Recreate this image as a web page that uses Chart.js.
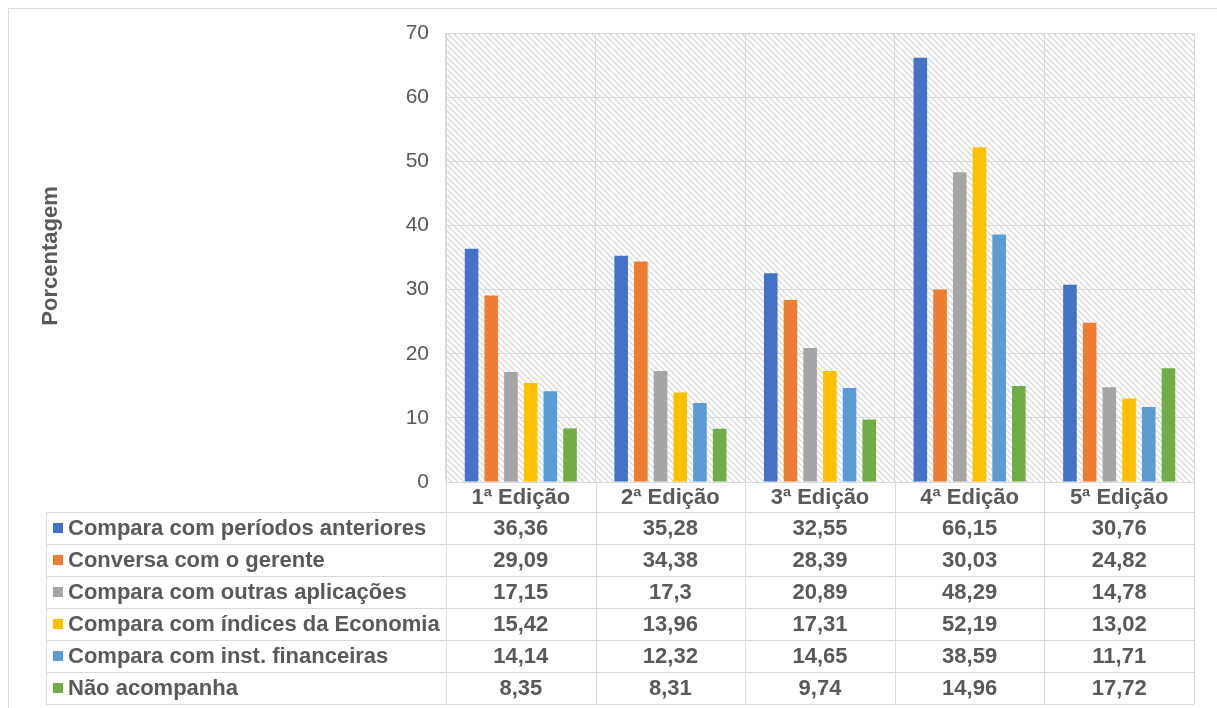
<!DOCTYPE html>
<html>
<head>
<meta charset="utf-8">
<script src="https://cdn.jsdelivr.net/npm/chart.js@4"></script>
<style>
  html, body { margin: 0; padding: 0; background: #fff; }
  #grafico { display: block; }
</style>
</head>
<body>
<canvas id="grafico" width="1217" height="708"></canvas>
<script>
// Edições da pesquisa
const edicoes = ['1ª Edição', '2ª Edição', '3ª Edição', '4ª Edição', '5ª Edição']

// Formas de acompanhamento (séries)
const series = [
  'Compara com períodos anteriores',
  'Conversa com o gerente',
  'Compara com outras aplicações',
  'Compara com índices da Economia',
  'Compara com inst. financeiras',
  'Não acompanha'
]

// Valores em porcentagem, por série
const periodosAnteriores = [36.36, 35.28, 32.55, 66.15, 30.76]
const conversaGerente = [29.09, 34.38, 28.39, 30.03, 24.82]
const outrasAplicacoes = [17.15, 17.3, 20.89, 48.29, 14.78]
const indicesEconomia = [15.42, 13.96, 17.31, 52.19, 13.02]
const instFinanceiras = [14.14, 12.32, 14.65, 38.59, 11.71]
const naoAcompanha = [8.35, 8.31, 9.74, 14.96, 17.72]

const valores = [periodosAnteriores, conversaGerente, outrasAplicacoes, indicesEconomia, instFinanceiras, naoAcompanha]

// Marcas do eixo y
const ticksY = [0, 10, 20, 30, 40, 50, 60, 70]

const cores = ['#4472C4', '#ED7D31', '#A5A5A5', '#FFC000', '#5B9BD5', '#70AD47']
const corTexto = '#595959'
const corLinha = '#d9d9d9'
const fonte = '"Liberation Sans", Arial, sans-serif'

// Padrão hachurado do fundo da área de plotagem
const criarHachura = (ctx) => {
    const tile = document.createElement('canvas')
    tile.width = 6
    tile.height = 6
    const t = tile.getContext('2d')
    t.fillStyle = '#ffffff'
    t.fillRect(0, 0, 6, 6)
    t.strokeStyle = '#dadada'
    t.lineWidth = 1.3
    t.beginPath()
    t.moveTo(-3, -3); t.lineTo(9, 9)
    t.moveTo(-9, -3); t.lineTo(3, 9)
    t.moveTo(3, -3); t.lineTo(15, 9)
    t.stroke()
    return ctx.createPattern(tile, 'repeat')
}

const fundo = {
    id: 'fundo',
    beforeDraw(chart) {
        const { ctx, chartArea: a } = chart
        ctx.save()
        ctx.fillStyle = '#ffffff'
        ctx.fillRect(0, 0, chart.width, chart.height)
        // moldura externa
        ctx.strokeStyle = corLinha
        ctx.lineWidth = 1
        ctx.beginPath()
        ctx.moveTo(8.5, chart.height)
        ctx.lineTo(8.5, 8.5)
        ctx.lineTo(chart.width, 8.5)
        ctx.stroke()
        ctx.fillStyle = criarHachura(ctx)
        ctx.fillRect(a.left, a.top, a.right - a.left, a.bottom - a.top)
        ctx.restore()
    }
}

// Tabela de dados abaixo do gráfico + título do eixo y
const tabela = {
    id: 'tabela',
    afterDraw(chart) {
        const { ctx, chartArea: a, scales } = chart
        const x = scales.x
        const topo = a.bottom
        const cab = 30
        const alt = 32
        const esq = 46
        const fim = topo + cab + alt * series.length
        const passo = (a.right - a.left) / edicoes.length

        ctx.save()
        ctx.strokeStyle = corLinha
        ctx.lineWidth = 1
        ctx.beginPath()
        // linhas verticais das colunas
        for (let i = 0; i <= edicoes.length; i++) {
            const px = Math.round(a.left + passo * i) + 0.5
            ctx.moveTo(px, topo)
            ctx.lineTo(px, fim)
        }
        ctx.moveTo(esq + 0.5, topo + cab)
        ctx.lineTo(esq + 0.5, fim)
        // linhas horizontais
        ctx.moveTo(a.left, topo + 0.5)
        ctx.lineTo(a.right, topo + 0.5)
        for (let r = 0; r <= series.length; r++) {
            const py = topo + cab + alt * r + 0.5
            ctx.moveTo(esq, py)
            ctx.lineTo(a.right, py)
        }
        ctx.stroke()

        ctx.fillStyle = corTexto
        ctx.font = 'bold 22px ' + fonte
        ctx.textAlign = 'center'
        ctx.textBaseline = 'middle'
        edicoes.forEach((ed, i) => {
            ctx.fillText(ed, x.getPixelForValue(i), topo + cab / 2 + 1)
        })

        series.forEach((nome, r) => {
            const cy = topo + cab + alt * r + alt / 2
            ctx.fillStyle = cores[r]
            ctx.fillRect(53, cy - 5, 10, 10)
            ctx.fillStyle = corTexto
            ctx.textAlign = 'left'
            ctx.fillText(nome, 68, cy + 1)
            ctx.textAlign = 'center'
            valores[r].forEach((v, i) => {
                ctx.fillText(String(v).replace('.', ','), x.getPixelForValue(i), cy + 1)
            })
        })

        // título do eixo y
        ctx.translate(57, 256)
        ctx.rotate(-Math.PI / 2)
        ctx.textAlign = 'center'
        ctx.textBaseline = 'alphabetic'
        ctx.fillText('Porcentagem', 0, 0)
        ctx.restore()
    }
}

const ctxGrafico = document.getElementById('grafico')
new Chart(ctxGrafico, {
    type: 'bar',
    data: {
        labels: edicoes,
        datasets: series.map((nome, i) => ({
            label: nome,
            data: valores[i],
            backgroundColor: cores[i],
            borderWidth: 0,
            categoryPercentage: 0.79,
            barPercentage: 0.69
        }))
    },
    options: {
        responsive: false,
        animation: false,
        events: [],
        layout: { padding: { top: 33, right: 23, bottom: 226, left: 0 } },
        plugins: {
            legend: { display: false },
            tooltip: { enabled: false }
        },
        scales: {
            x: {
                grid: { color: corLinha, offset: true, drawTicks: false },
                border: { color: corLinha },
                ticks: { display: false },
                afterFit: (s) => { s.height = 0 }
            },
            y: {
                min: 0,
                max: 70,
                afterBuildTicks: (s) => { s.ticks = ticksY.map(v => ({ value: v })) },
                grid: { color: corLinha, drawTicks: false },
                border: { color: corLinha },
                ticks: {
                    color: corTexto,
                    padding: 17,
                    font: { family: fonte, size: 21 }
                },
                afterFit: (s) => { s.width = 446 }
            }
        }
    },
    plugins: [fundo, tabela]
})
</script>
</body>
</html>
